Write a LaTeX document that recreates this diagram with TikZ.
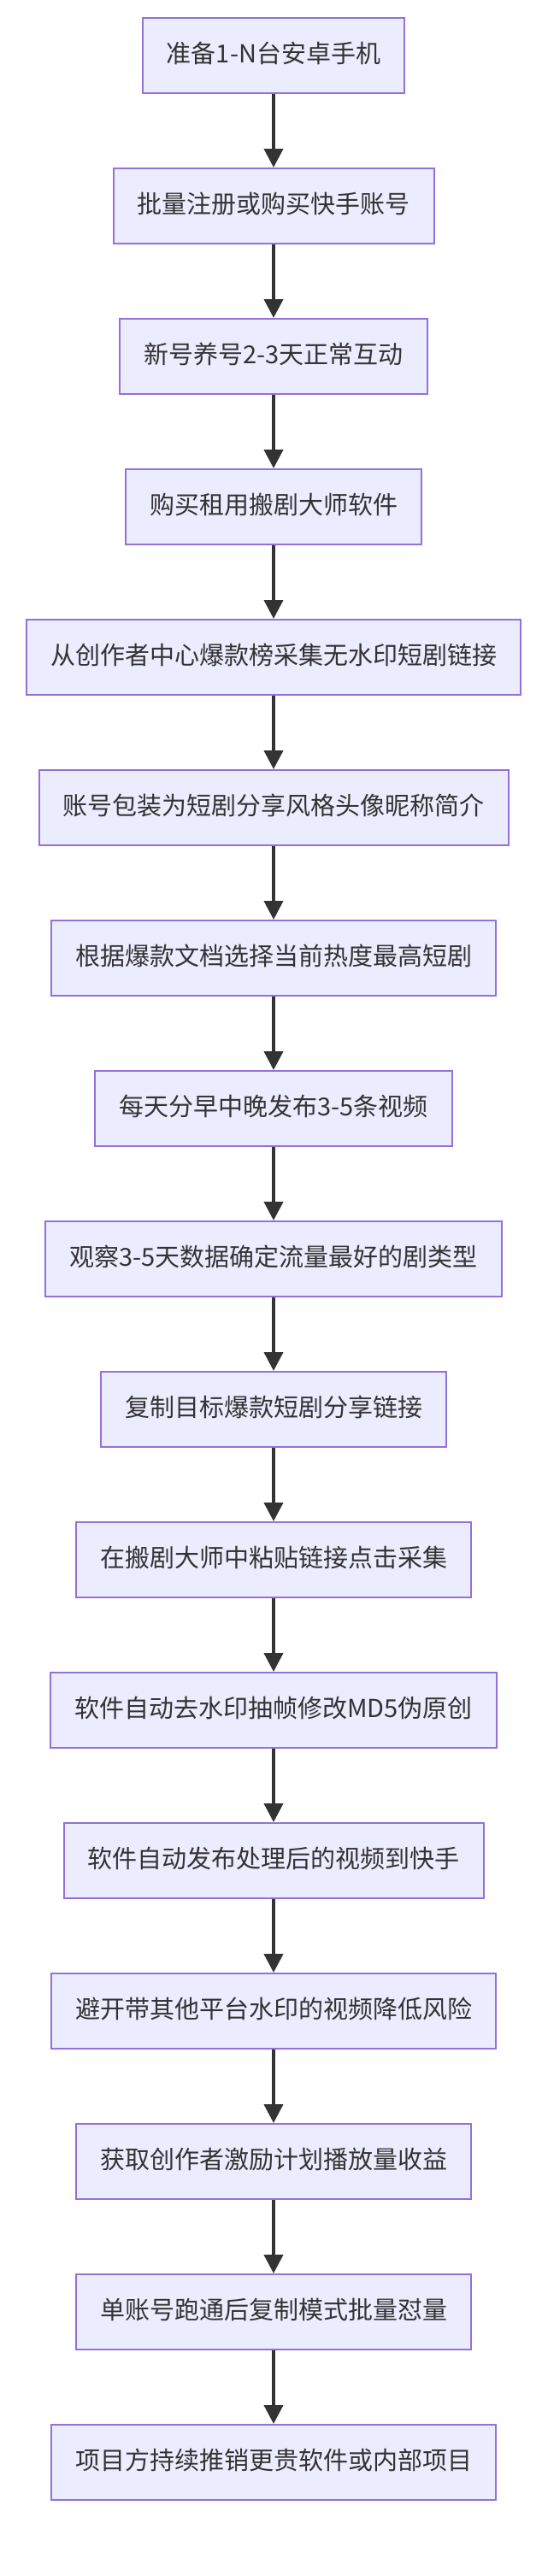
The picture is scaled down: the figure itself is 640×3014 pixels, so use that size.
\documentclass[tikz,border=0pt]{standalone}
\usepackage{fontspec}
\setmainfont{Noto Sans CJK SC}
\usetikzlibrary{positioning,arrows.meta}
\definecolor{stepfill}{HTML}{ECECFF}
\definecolor{stepline}{HTML}{9370DB}
\definecolor{flowline}{HTML}{333333}
\begin{document}
\begin{tikzpicture}[x=1pt, y=-1pt, node distance=86pt,
    stepbox/.style={draw=stepline, line width=2pt, fill=stepfill, text=flowline,
        font=\fontsize{29pt}{31pt}\selectfont, inner xsep=28pt,
        minimum height=88pt, text height=22pt, text depth=6pt},
    flow/.style={draw=flowline, line width=4pt, -{Triangle[length=22pt,width=22pt]}}
    ]
    \useasboundingbox (0,0) rectangle (640,3014);
    \node [stepbox] (s1) at (320,65) {准备1-N台安卓手机};
    \foreach \txt [count=\i from 2, evaluate=\i as \j using int(\i-1)] in {
        批量注册或购买快手账号,
        新号养号2-3天正常互动,
        购买租用搬剧大师软件,
        从创作者中心爆款榜采集无水印短剧链接,
        账号包装为短剧分享风格头像昵称简介,
        根据爆款文档选择当前热度最高短剧,
        每天分早中晚发布3-5条视频,
        观察3-5天数据确定流量最好的剧类型,
        复制目标爆款短剧分享链接,
        在搬剧大师中粘贴链接点击采集,
        软件自动去水印抽帧修改MD5伪原创,
        软件自动发布处理后的视频到快手,
        避开带其他平台水印的视频降低风险,
        获取创作者激励计划播放量收益,
        单账号跑通后复制模式批量怼量,
        项目方持续推销更贵软件或内部项目}
    {
        \node [stepbox, below=of s\j] (s\i) {\txt};
        \draw [flow] (s\j) -- (s\i);
    }
\end{tikzpicture}
\end{document}
